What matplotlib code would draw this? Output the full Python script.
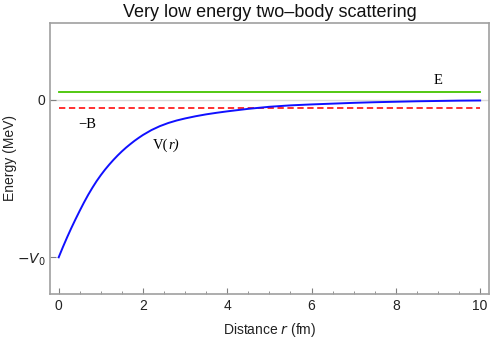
import matplotlib
matplotlib.use("Agg")
import matplotlib.pyplot as plt
from matplotlib.ticker import MultipleLocator

# Data (V0 = 1 units)
r_vals = [0.0, 0.1, 0.2, 0.3, 0.4, 0.5, 0.6, 0.7, 0.8, 0.9, 1.0, 1.1, 1.2,
          1.3, 1.4, 1.5, 1.6, 1.7, 1.8, 1.9, 2.0, 2.2, 2.4, 2.6, 2.8, 3.0,
          3.25, 3.5, 3.75, 4.0, 4.5, 5.0, 5.5, 6.0, 6.5, 7.0, 7.5, 8.0, 8.5,
          9.0, 9.5, 10.0]
v_vals = [-1.000, -0.935, -0.873, -0.814, -0.758, -0.704, -0.652, -0.603,
          -0.558, -0.516, -0.478, -0.443, -0.411, -0.381, -0.353, -0.327,
          -0.303, -0.281, -0.260, -0.241, -0.223, -0.192, -0.167, -0.147,
          -0.131, -0.118, -0.104, -0.092, -0.082, -0.073, -0.057, -0.044,
          -0.035, -0.029, -0.024, -0.019, -0.015, -0.012, -0.009, -0.007,
          -0.005, -0.004]
E_level = 0.051
B_level = -0.049
r_range = [0.0, 10.0]
x_ticks = [0, 2, 4, 6, 8, 10]
y_ticks = [-1.0, 0.0]
y_ticklabels = [r"$-V_0$", "0"]

fig = plt.figure(figsize=(4.91, 3.39), dpi=100)
ax = fig.add_axes([50/491, 1-294/339, (489-50)/491, (294-22.7)/339])

ax.axhline(0, color="#d9d9d9", lw=1.0, zorder=1)
ax.plot(r_range, [E_level, E_level], color="#44c400", lw=1.3, zorder=3)
ax.plot(r_range, [B_level, B_level], color="#ff2020", lw=1.3, ls=(0, (3.5, 2)), zorder=3)
ax.plot(r_vals, v_vals, color="#1010ff", lw=1.4, zorder=4)

ax.set_xlim(-0.206, 10.21)
ax.set_ylim(-1.233, 0.49)

ax.set_xticks(x_ticks)
ax.xaxis.set_minor_locator(MultipleLocator(0.5))
ax.set_yticks(y_ticks)
ax.set_yticklabels(y_ticklabels)

for s in ax.spines.values():
    s.set_color("#a0a0a0")
    s.set_linewidth(1.2)

ax.tick_params(axis="both", which="both", direction="in", colors="#808080",
               labelcolor="#222222", labelsize=10)
ax.tick_params(axis="x", which="major", length=4, top=False)
ax.tick_params(axis="x", which="minor", length=2, top=False)
ax.tick_params(axis="y", which="major", length=4, right=False)
for lab in ax.get_xticklabels() + ax.get_yticklabels():
    lab.set_fontfamily("Liberation Sans")

ax.set_title("Very low energy two\u2013body scattering", fontsize=13,
             family="Liberation Sans", color="#111111", pad=4)
ax.set_xlabel(r"Distance $\it{r}$ (fm)", fontsize=10, family="Liberation Sans",
              color="#222222", labelpad=6)
ax.set_ylabel("Energy (MeV)", fontsize=10, family="Liberation Sans",
              color="#222222", va="center")
ax.yaxis.set_label_coords(-0.092, 0.5)

ax.text(9.0, 0.125, "E", family="Liberation Serif", fontsize=10.5,
        ha="center", va="center")
ax.text(0.69, -0.155, "\u2212B", family="Liberation Serif", fontsize=10.5,
        ha="center", va="center")
ax.text(2.6, -0.29, "V(", family="Liberation Serif", fontsize=10.5,
        ha="right", va="center")
ax.text(2.6, -0.29, "r)", family="Liberation Serif", fontsize=10.5,
        ha="left", va="center", style="italic")

fig.savefig("out.png", dpi=100)
